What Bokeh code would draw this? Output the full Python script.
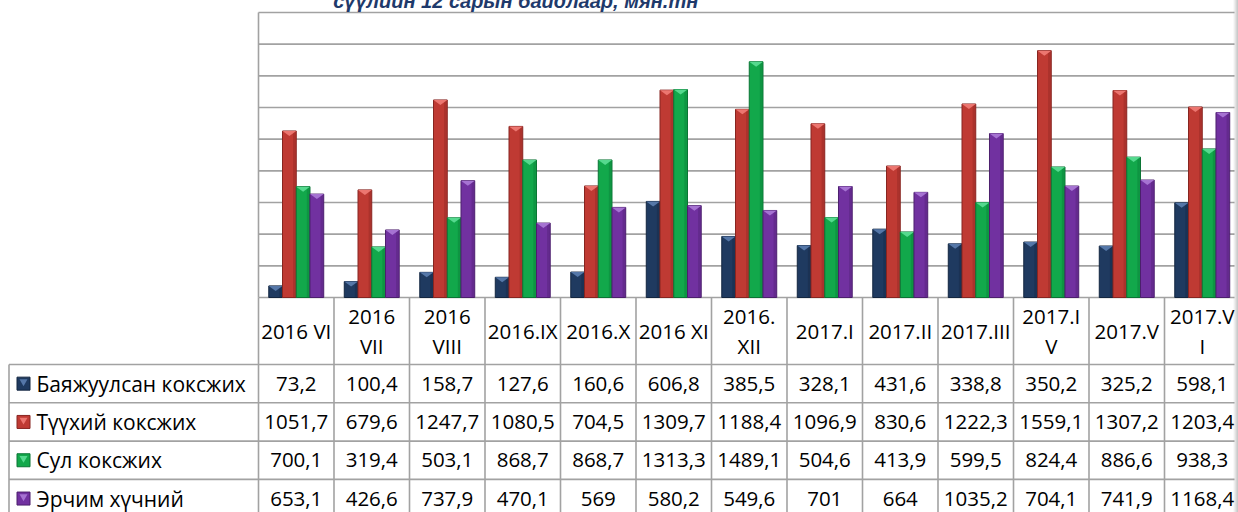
import numpy as np
from bokeh.plotting import figure
from bokeh.models import Range1d, Label
from bokeh.core.properties import value
from bokeh.embed import file_html
from bokeh.resources import INLINE

# ---------------- data ----------------
categories = ["2016 VI", "2016\nVII", "2016\nVIII", "2016.IX", "2016.X", "2016 XI",
              "2016.\nXII", "2017.I", "2017.II", "2017.III", "2017.I\nV", "2017.V", "2017.V\nI"]
series_names = ["Баяжуулсан коксжих", "Түүхий коксжих", "Сул коксжих", "Эрчим хүчний"]
bayajuulsan = [73.2, 100.4, 158.7, 127.6, 160.6, 606.8, 385.5, 328.1, 431.6, 338.8, 350.2, 325.2, 598.1]
tuukhii = [1051.7, 679.6, 1247.7, 1080.5, 704.5, 1309.7, 1188.4, 1096.9, 830.6, 1222.3, 1559.1, 1307.2, 1203.4]
sul = [700.1, 319.4, 503.1, 868.7, 868.7, 1313.3, 1489.1, 504.6, 413.9, 599.5, 824.4, 886.6, 938.3]
erchim = [653.1, 426.6, 737.9, 470.1, 569, 580.2, 549.6, 701, 664, 1035.2, 704.1, 741.9, 1168.4]
grid_ticks = [0, 200, 400, 600, 800, 1000, 1200, 1400, 1600, 1800]
title_text = "сүүлийн 12 сарын  байдлаар, мян.тн"

series = [bayajuulsan, tuukhii, sul, erchim]

# ---------------- styles / layout ----------------
FONT = "Open Sans"
fills = ["#1F3A60", "#BF3A33", "#12A84B", "#7131A0"]
edges = ["#132640", "#872520", "#0A7434", "#4C1F6D"]
caps = ["#5577A8", "#EC7670", "#55D98E", "#A673D2"]
GRID_COLOR = "#A2A2A2"

# page geometry (page pixels); figure is pulled up by its negative margin
FIG_LEFT, FIG_TOP = 0, -8
W, H = 1238, 520
PLOT_LEFT = 258       # page x where the plot area begins
CAT_W = 75.5          # px per category
BASE_Y, TOP_Y = 297, 12
YMAX = 1800
HEADER_BOTTOM = 364
ROW_H = 38.3
BAR_W = 0.182
TABLE_LEFT = 8.5

n = len(categories)
x = np.arange(n)


def px_to_x(px):
    return -0.5 + (px - PLOT_LEFT) / CAT_W


yscale = YMAX / (BASE_Y - TOP_Y)
x_start = px_to_x(FIG_LEFT)
x_end = px_to_x(FIG_LEFT + W)

p = figure(width=W, height=H, output_backend="svg", toolbar_location=None,
           x_range=Range1d(x_start, x_end),
           y_range=Range1d((BASE_Y - (FIG_TOP + H)) * yscale, (BASE_Y - FIG_TOP) * yscale),
           min_border=0, min_border_left=0, min_border_right=0,
           min_border_top=0, min_border_bottom=0,
           margin=(-8, 0, 0, 0))
p.extra_y_ranges = {"tbl": Range1d(start=FIG_TOP + H, end=FIG_TOP)}
p.axis.visible = False
p.grid.visible = False
p.outline_line_color = None
p.background_fill_color = "white"
p.border_fill_color = "white"

right_x = px_to_x(1234)

# horizontal gridlines in plot area
p.segment(x0=[-0.5] * len(grid_ticks), x1=[right_x] * len(grid_ticks),
          y0=grid_ticks, y1=grid_ticks, line_color=GRID_COLOR, line_width=1.6)
# left border of plot area
p.segment(x0=[-0.5], x1=[-0.5], y0=[0], y1=[YMAX], line_color=GRID_COLOR, line_width=1.6)

# bars
cap_h = 5 * yscale
offsets = [-1.5, -0.5, 0.5, 1.5]
for k, vals in enumerate(series):
    xs = x + offsets[k] * BAR_W
    vals = np.array(vals, dtype=float)
    p.vbar(x=xs, width=BAR_W, top=vals, bottom=0, fill_color=fills[k],
           line_color=edges[k], line_width=1)
    p.vbar(x=xs + BAR_W * 0.36, width=BAR_W * 0.18, top=vals, bottom=0,
           fill_color=edges[k], fill_alpha=0.35, line_color=None)
    tri_x = [[xi - BAR_W / 2, xi + BAR_W / 2, xi] for xi in xs]
    tri_y = [[v, v, max(v - cap_h, 0)] for v in vals]
    p.patches(xs=tri_x, ys=tri_y, fill_color=caps[k], line_color=None)

# ---------------- data table ----------------
lx = px_to_x(TABLE_LEFT)
row_tops = [HEADER_BOTTOM + i * ROW_H for i in range(len(series))]
row_mids = [t + ROW_H / 2 for t in row_tops]
TBL_BOTTOM = FIG_TOP + H + 20

bx = [-0.5 + i for i in range(n + 1)]
p.segment(x0=bx, x1=bx, y0=[BASE_Y] * len(bx), y1=[TBL_BOTTOM] * len(bx),
          line_color=GRID_COLOR, line_width=1.6, y_range_name="tbl")
p.segment(x0=[lx] * len(row_tops), x1=[right_x] * len(row_tops),
          y0=row_tops, y1=row_tops, line_color=GRID_COLOR, line_width=1.6, y_range_name="tbl")
p.segment(x0=[lx], x1=[lx], y0=[HEADER_BOTTOM], y1=[TBL_BOTTOM],
          line_color=GRID_COLOR, line_width=1.6, y_range_name="tbl")

p.text(x=x, y=[(BASE_Y + HEADER_BOTTOM) / 2] * n, text=categories,
       text_font=value(FONT), text_font_size="20.5px", text_color="black",
       text_align="center", text_baseline="middle", text_line_height=1.1,
       y_range_name="tbl")


def fmt(v):
    if float(v).is_integer():
        return str(int(v))
    return f"{v:.1f}".replace(".", ",")


for k, vals in enumerate(series):
    p.text(x=x, y=[row_mids[k]] * n, text=[fmt(v) for v in vals],
           text_font=value(FONT), text_font_size="20.5px", text_color="black",
           text_align="center", text_baseline="middle", y_range_name="tbl")

# legend keys and series labels
key_x = px_to_x(23)
lab_x = px_to_x(36)
p.scatter(x=[key_x] * 4, y=row_mids, marker="square", size=13,
          fill_color=fills, line_color=edges, line_width=1, y_range_name="tbl")
p.scatter(x=[key_x] * 4, y=[m - 2 for m in row_mids], marker="inverted_triangle", size=8,
          fill_color=caps, line_color=None, y_range_name="tbl")
p.text(x=[lab_x] * 4, y=row_mids, text=series_names,
       text_font=value(FONT), text_font_size="21px", text_color="black",
       text_align="left", text_baseline="middle", y_range_name="tbl")

# right-edge page shading
shade_px = [1233.5, 1234.5, 1235.5, 1236.5, 1237.5]
shade_alpha = [0.08, 0.16, 0.26, 0.36, 0.46]
for sx, sa in zip(shade_px, shade_alpha):
    p.segment(x0=[px_to_x(sx)], x1=[px_to_x(sx)], y0=[FIG_TOP], y1=[TBL_BOTTOM],
              line_color="#707070", line_alpha=sa, line_width=1, y_range_name="tbl")

# title (partly cut off at top of page, as in the source)
p.add_layout(Label(x=px_to_x(518), y=0, y_range_name="tbl",
                   text=title_text, text_font="Liberation Sans", text_font_style="bold italic",
                   text_font_size="20px", text_color="#1F3A6B",
                   text_align="center", text_baseline="alphabetic"))

open("out.html", "w").write(file_html(p, INLINE))
